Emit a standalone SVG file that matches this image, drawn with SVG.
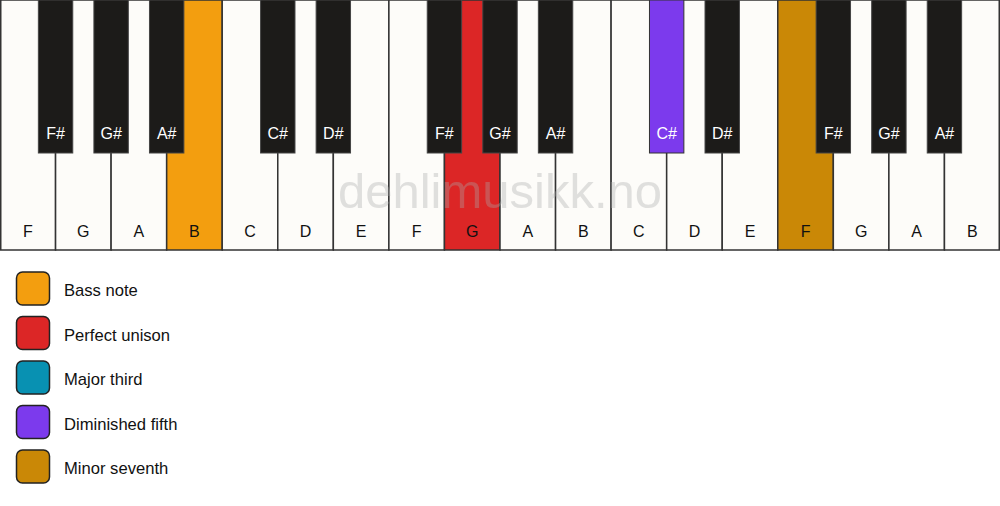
<svg xmlns="http://www.w3.org/2000/svg" width="1000" height="506" viewBox="0 0 1000 506">
<style>
.w{fill:#fdfcf9;stroke:#333;stroke-width:1.5}
.b{fill:#1c1b19;stroke:#444;stroke-width:1}
.wl{font-family:"Liberation Sans",Arial,sans-serif;font-size:16px;fill:#111;text-anchor:middle}
.bl{font-family:"Liberation Sans",Arial,sans-serif;font-size:16px;fill:#fff;text-anchor:middle}
.lg{stroke:#222;stroke-width:1.5}
.lt{font-family:"Liberation Sans",Arial,sans-serif;font-size:16.6px;fill:#111}
.wm{font-family:"Liberation Sans",Arial,sans-serif;font-size:49px;fill:#aaa;opacity:0.35;text-anchor:middle}
</style>
<rect width="1000" height="506" fill="#fff"/>
<g id="white-keys">
<g id="w0"><rect class="w" x="0.75" y="0" width="54.81" height="250"/><text class="wl" x="27.78" y="237">F</text></g>
<g id="w1"><rect class="w" x="55.56" y="0" width="55.56" height="250"/><text class="wl" x="83.33" y="237">G</text></g>
<g id="w2"><rect class="w" x="111.11" y="0" width="55.56" height="250"/><text class="wl" x="138.89" y="237">A</text></g>
<g id="w3"><rect class="w" x="166.67" y="0" width="55.56" height="250" style="fill:#f39e0f"/><text class="wl" x="194.44" y="237">B</text></g>
<g id="w4"><rect class="w" x="222.22" y="0" width="55.56" height="250"/><text class="wl" x="250" y="237">C</text></g>
<g id="w5"><rect class="w" x="277.78" y="0" width="55.56" height="250"/><text class="wl" x="305.56" y="237">D</text></g>
<g id="w6"><rect class="w" x="333.33" y="0" width="55.56" height="250"/><text class="wl" x="361.11" y="237">E</text></g>
<g id="w7"><rect class="w" x="388.89" y="0" width="55.56" height="250"/><text class="wl" x="416.67" y="237">F</text></g>
<g id="w8"><rect class="w" x="444.44" y="0" width="55.56" height="250" style="fill:#dc2626"/><text class="wl" x="472.22" y="237">G</text></g>
<g id="w9"><rect class="w" x="500" y="0" width="55.56" height="250"/><text class="wl" x="527.78" y="237">A</text></g>
<g id="w10"><rect class="w" x="555.56" y="0" width="55.56" height="250"/><text class="wl" x="583.33" y="237">B</text></g>
<g id="w11"><rect class="w" x="611.11" y="0" width="55.56" height="250"/><text class="wl" x="638.89" y="237">C</text></g>
<g id="w12"><rect class="w" x="666.67" y="0" width="55.56" height="250"/><text class="wl" x="694.44" y="237">D</text></g>
<g id="w13"><rect class="w" x="722.22" y="0" width="55.56" height="250"/><text class="wl" x="750" y="237">E</text></g>
<g id="w14"><rect class="w" x="777.78" y="0" width="55.56" height="250" style="fill:#ca8806"/><text class="wl" x="805.56" y="237">F</text></g>
<g id="w15"><rect class="w" x="833.33" y="0" width="55.56" height="250"/><text class="wl" x="861.11" y="237">G</text></g>
<g id="w16"><rect class="w" x="888.89" y="0" width="55.56" height="250"/><text class="wl" x="916.67" y="237">A</text></g>
<g id="w17"><rect class="w" x="944.44" y="0" width="54.81" height="250"/><text class="wl" x="972.22" y="237">B</text></g>
</g>
<text class="wm" x="500" y="208">dehlimusikk.no</text>
<g id="black-keys">
<g id="b1"><rect class="b" x="38.36" y="0" width="34.4" height="153"/><text class="bl" x="55.56" y="139">F#</text></g>
<g id="b2"><rect class="b" x="93.91" y="0" width="34.4" height="153"/><text class="bl" x="111.11" y="139">G#</text></g>
<g id="b3"><rect class="b" x="149.47" y="0" width="34.4" height="153"/><text class="bl" x="166.67" y="139">A#</text></g>
<g id="b5"><rect class="b" x="260.58" y="0" width="34.4" height="153"/><text class="bl" x="277.78" y="139">C#</text></g>
<g id="b6"><rect class="b" x="316.13" y="0" width="34.4" height="153"/><text class="bl" x="333.33" y="139">D#</text></g>
<g id="b8"><rect class="b" x="427.24" y="0" width="34.4" height="153"/><text class="bl" x="444.44" y="139">F#</text></g>
<g id="b9"><rect class="b" x="482.8" y="0" width="34.4" height="153"/><text class="bl" x="500" y="139">G#</text></g>
<g id="b10"><rect class="b" x="538.36" y="0" width="34.4" height="153"/><text class="bl" x="555.56" y="139">A#</text></g>
<g id="b12"><rect class="b" x="649.47" y="0" width="34.4" height="153" style="fill:#7c3aed;stroke:#333"/><text class="bl" x="666.67" y="139">C#</text></g>
<g id="b13"><rect class="b" x="705.02" y="0" width="34.4" height="153"/><text class="bl" x="722.22" y="139">D#</text></g>
<g id="b15"><rect class="b" x="816.13" y="0" width="34.4" height="153"/><text class="bl" x="833.33" y="139">F#</text></g>
<g id="b16"><rect class="b" x="871.69" y="0" width="34.4" height="153"/><text class="bl" x="888.89" y="139">G#</text></g>
<g id="b17"><rect class="b" x="927.24" y="0" width="34.4" height="153"/><text class="bl" x="944.44" y="139">A#</text></g>
</g>
<g id="legend">
<g id="lg-bass"><rect class="lg" x="16.5" y="272" width="33" height="33" rx="6" fill="#f39e0f"/><text class="lt" x="64" y="296">Bass note</text></g>
<g id="lg-unison"><rect class="lg" x="16.5" y="316.5" width="33" height="33" rx="6" fill="#dc2626"/><text class="lt" x="64" y="340.5">Perfect unison</text></g>
<g id="lg-third"><rect class="lg" x="16.5" y="361" width="33" height="33" rx="6" fill="#0891b2"/><text class="lt" x="64" y="385">Major third</text></g>
<g id="lg-fifth"><rect class="lg" x="16.5" y="405.5" width="33" height="33" rx="6" fill="#7c3aed"/><text class="lt" x="64" y="429.5">Diminished fifth</text></g>
<g id="lg-seventh"><rect class="lg" x="16.5" y="450" width="33" height="33" rx="6" fill="#ca8806"/><text class="lt" x="64" y="474">Minor seventh</text></g>
</g>
</svg>
